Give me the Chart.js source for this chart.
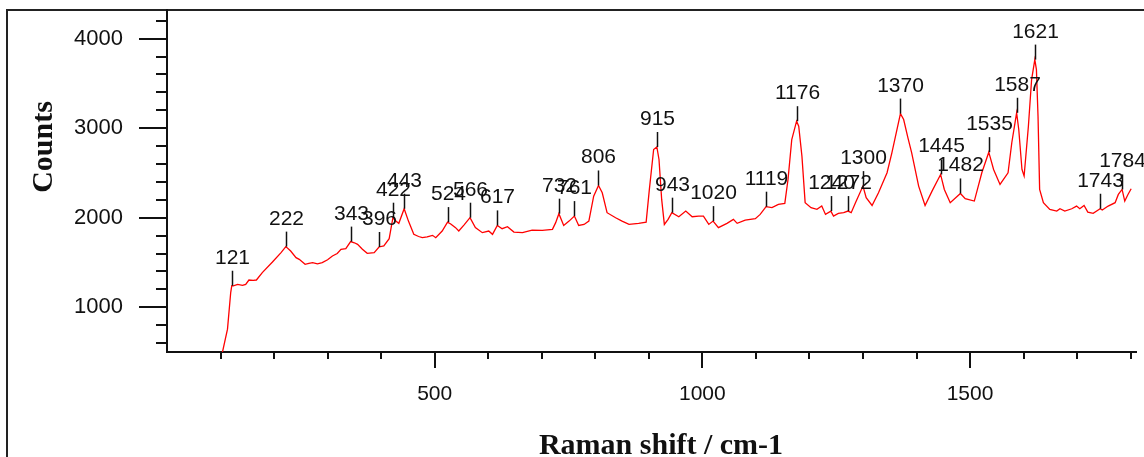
<!DOCTYPE html>
<html>
<head>
<meta charset="utf-8">
<script src="https://cdn.jsdelivr.net/npm/chart.js@4.4.0/dist/chart.umd.min.js"></script>
<style>
  html, body { margin: 0; padding: 0; background: #fff; }
  canvas { display: block; }
</style>
</head>
<body>
<canvas id="spectrum" width="1144" height="457"></canvas>
<script>
// spectrum (cm-1 / counts)
const ramanShift = [
  100, 104, 113, 119, 121, 124, 132, 141, 147, 153,
  161, 167, 178, 197, 213, 222, 231, 241, 247, 258,
  265, 272, 281, 290, 300, 309, 318, 325, 334, 343,
  350, 356, 365, 374, 387, 396, 405, 415, 422, 428,
  433, 443, 451, 461, 470, 477, 486, 496, 502, 514,
  524, 530, 539, 545, 555, 566, 576, 589, 601, 608,
  617, 626, 636, 648, 664, 682, 701, 720, 726, 732,
  741, 751, 761, 769, 779, 788, 797, 806, 813, 822,
  838, 850, 863, 881, 895, 901, 909, 915, 919, 924,
  929, 936, 943, 956, 969, 981, 993, 1002, 1012, 1020,
  1030, 1046, 1058, 1065, 1080, 1099, 1108, 1119, 1130, 1142,
  1154, 1160, 1167, 1176, 1180, 1186, 1192, 1203, 1214, 1223,
  1230, 1240, 1245, 1254, 1264, 1272, 1278, 1286, 1300, 1306,
  1317, 1329, 1345, 1354, 1370, 1376, 1384, 1391, 1404, 1416,
  1429, 1445, 1452, 1463, 1482, 1491, 1508, 1522, 1535, 1544,
  1556, 1571, 1578, 1587, 1591, 1597, 1601, 1609, 1615, 1621,
  1624, 1627, 1630, 1637, 1649, 1662, 1668, 1677, 1690, 1699,
  1705, 1713, 1720, 1730, 1743, 1747, 1758, 1771, 1777, 1784,
  1789, 1795, 1801
];
const counts = [
  420, 510, 755, 1164, 1240, 1238, 1256, 1245, 1256, 1304,
  1300, 1304, 1387, 1505, 1610, 1677, 1628, 1554, 1535, 1480,
  1490, 1498, 1485, 1498, 1530, 1572, 1600, 1647, 1654, 1733,
  1720, 1703, 1647, 1602, 1610, 1673, 1684, 1766, 2000, 1960,
  1937, 2100, 1962, 1814, 1790, 1777, 1785, 1803, 1777, 1851,
  1951, 1930, 1889, 1851, 1920, 2000, 1889, 1833, 1851, 1814,
  1914, 1877, 1900, 1840, 1833, 1862, 1859, 1870, 1945, 2045,
  1914, 1962, 2018, 1914, 1925, 1962, 2241, 2360, 2279, 2056,
  2000, 1962, 1925, 1937, 1951, 2316, 2762, 2790, 2650, 2204,
  1925, 1981, 2056, 2011, 2074, 2011, 2018, 2018, 1925, 1962,
  1889, 1937, 1981, 1937, 1974, 1989, 2037, 2123, 2112, 2149,
  2160, 2427, 2873, 3078, 3022, 2687, 2168, 2112, 2093, 2130,
  2037, 2074, 2018, 2048, 2056, 2074, 2056, 2168, 2353, 2223,
  2137, 2279, 2502, 2725, 3163, 3097, 2892, 2725, 2353, 2137,
  2297, 2483, 2316, 2168, 2271, 2212, 2186, 2502, 2732, 2539,
  2372, 2502, 2837, 3172, 2985, 2539, 2465, 3022, 3543, 3766,
  3654, 3133, 2316, 2168, 2093, 2074, 2100, 2074, 2100, 2130,
  2100, 2137, 2063, 2048, 2100, 2085, 2130, 2168, 2260, 2316,
  2186, 2260, 2323
];
const peakLabels = [121, 222, 343, 396, 422, 443, 524, 566, 617, 732, 761, 806, 915, 943,
  1020, 1119, 1176, 1240, 1272, 1300, 1370, 1445, 1482, 1535, 1587, 1621, 1743, 1784];
const xTickLabels = [500, 1000, 1500];
const yTickLabels = [1000, 2000, 3000, 4000];

const INK = '#111';

function countsAt(shift) {
  for (let i = 1; i < ramanShift.length; i++) {
    if (ramanShift[i] >= shift) {
      const x0 = ramanShift[i - 1], x1 = ramanShift[i];
      const t = (shift - x0) / (x1 - x0);
      return counts[i - 1] + t * (counts[i] - counts[i - 1]);
    }
  }
  return counts[counts.length - 1];
}

const decorations = {
  id: 'decorations',
  beforeDraw(chart) {
    const ctx = chart.ctx;
    ctx.save();
    ctx.strokeStyle = '#222';
    ctx.lineWidth = 2;
    ctx.strokeRect(7, 10, 1160, 480); // outer frame, cut by the picture edge
    ctx.restore();
  },
  afterDatasetsDraw(chart) {
    const ctx = chart.ctx;
    const xs = chart.scales.x, ys = chart.scales.y;
    const area = chart.chartArea;
    ctx.save();
    ctx.strokeStyle = INK;
    ctx.lineWidth = 2;
    ctx.beginPath();
    // x ticks every 100, long at 500
    for (let v = 100; v <= 1800; v += 100) {
      const px = Math.round(xs.getPixelForValue(v));
      const len = v % 500 === 0 ? 16 : 7;
      ctx.moveTo(px, area.bottom);
      ctx.lineTo(px, area.bottom + len);
    }
    // y ticks every 200, long at 1000
    for (let v = 600; v <= 4200; v += 200) {
      const py = Math.round(ys.getPixelForValue(v));
      const len = v % 1000 === 0 ? 28 : 11;
      ctx.moveTo(area.left, py);
      ctx.lineTo(area.left - len, py);
    }
    ctx.stroke();

    // peak markers
    ctx.lineWidth = 1.5;
    ctx.fillStyle = INK;
    ctx.font = '21px "Liberation Sans", Arial, sans-serif';
    ctx.textAlign = 'center';
    ctx.textBaseline = 'alphabetic';
    peakLabels.forEach(p => {
      const px = Math.round(xs.getPixelForValue(p)) + 0.5;
      const py = ys.getPixelForValue(countsAt(p));
      ctx.beginPath();
      ctx.moveTo(px, py);
      ctx.lineTo(px, py - 15);
      ctx.stroke();
      ctx.fillText(String(p), px, py - 22);
    });
    ctx.restore();
  },
  afterDraw(chart) {
    const ctx = chart.ctx;
    ctx.save();
    ctx.fillStyle = INK;
    ctx.font = 'bold 30px "Liberation Serif", "Times New Roman", serif';
    ctx.textAlign = 'center';
    ctx.textBaseline = 'alphabetic';
    ctx.fillText('Raman shift / cm-1', 661, 454);
    ctx.translate(52, 147);
    ctx.rotate(-Math.PI / 2);
    ctx.fillText('Counts', 0, 0);
    ctx.restore();
  }
};

new Chart(document.getElementById('spectrum'), {
  type: 'scatter',
  data: {
    datasets: [{
      data: ramanShift.map((x, i) => ({ x: x, y: counts[i] })),
      showLine: true,
      borderColor: '#ff0000',
      borderWidth: 1.3,
      pointRadius: 0,
      tension: 0
    }]
  },
  options: {
    responsive: false,
    animation: false,
    devicePixelRatio: 1,
    layout: { padding: { top: 10, right: 8, left: 0, bottom: 0 } },
    plugins: { legend: { display: false }, tooltip: { enabled: false } },
    scales: {
      x: {
        type: 'linear',
        min: 0,
        max: 1810,
        afterFit: s => {
          s.height = 105;
          s.paddingLeft = 0;
          s.paddingRight = 0;
        },
        afterBuildTicks: s => { s.ticks = xTickLabels.map(v => ({ value: v })); },
        grid: { display: false, drawTicks: false },
        border: { display: true, color: INK, width: 2 },
        ticks: {
          color: INK,
          padding: 30,
          maxRotation: 0,
          autoSkip: false,
          callback: v => String(v),
          font: { family: '"Liberation Sans", Arial, sans-serif', size: 21 }
        }
      },
      y: {
        type: 'linear',
        min: 500,
        max: 4320,
        afterFit: s => {
          s.width = 167;
          s.paddingTop = 0;
          s.paddingBottom = 0;
        },
        afterBuildTicks: s => { s.ticks = yTickLabels.map(v => ({ value: v })); },
        grid: { display: false, drawTicks: false },
        border: { display: true, color: INK, width: 2 },
        ticks: {
          color: INK,
          padding: 44,
          callback: v => String(v),
          font: { family: '"Liberation Sans", Arial, sans-serif', size: 22 }
        }
      }
    }
  },
  plugins: [decorations]
});
</script>
</body>
</html>
